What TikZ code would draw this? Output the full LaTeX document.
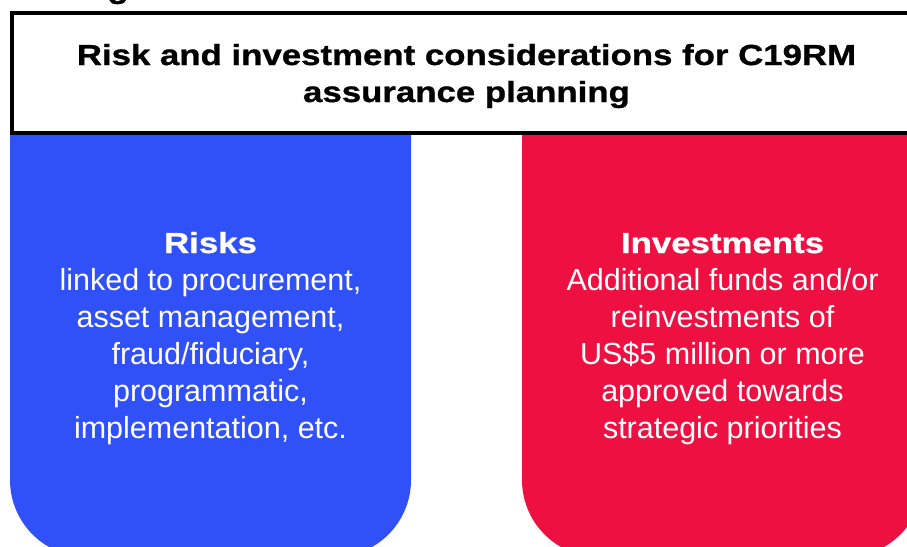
\documentclass[tikz,border=0pt]{standalone}
\usepackage{fontspec}
\setmainfont{Liberation Sans}
\newfontfamily\heavyfont{Liberation Sans}[FakeStretch=1.2,FakeBold=1]
\definecolor{riskblue}{RGB}{48,80,248}
\definecolor{investred}{RGB}{238,16,64}

\begin{document}
\begin{tikzpicture}[x=1pt,y=-1pt,
    panel/.style={rounded corners=77pt},
    headtext/.style={anchor=base,align=center,font=\heavyfont\bfseries\fontsize{29}{37}\selectfont},
    bodytext/.style={anchor=base,align=center,text=white,font=\fontsize{30.5}{37}\selectfont}]
  \useasboundingbox (0,0) rectangle (907,546);
  \clip (0,0) rectangle (907,546);
  % cut-off caption above the frame
  \node[anchor=base,font=\heavyfont\bfseries\fontsize{29}{37}\selectfont] (caption) at (118,-2) {g};
  % the two panels (top corners hide under the frame)
  \fill[riskblue,panel] (10,40) rectangle (411,557);
  \fill[investred,panel] (522,40) rectangle (923,557);
  % title frame (base = last line)
  \draw[line width=4pt,fill=white] (12,13) rectangle (925,133);
  \node[headtext] (title) at (466.5,102)
    {Risk and investment considerations for C19RM\\assurance planning};
  \node[bodytext] (risks) at (210.5,438)
    {{\heavyfont\bfseries\fontsize{29}{37}\selectfont Risks}\\
     linked to procurement,\\asset management,\\fraud/fiduciary,\\
     programmatic,\\implementation, etc.};
  \node[bodytext] (investments) at (722.5,438)
    {{\heavyfont\bfseries\fontsize{29}{37}\selectfont Investments}\\
     Additional funds and/or\\reinvestments of\\US\$5 million or more\\
     approved towards\\strategic priorities};
\end{tikzpicture}
\end{document}
